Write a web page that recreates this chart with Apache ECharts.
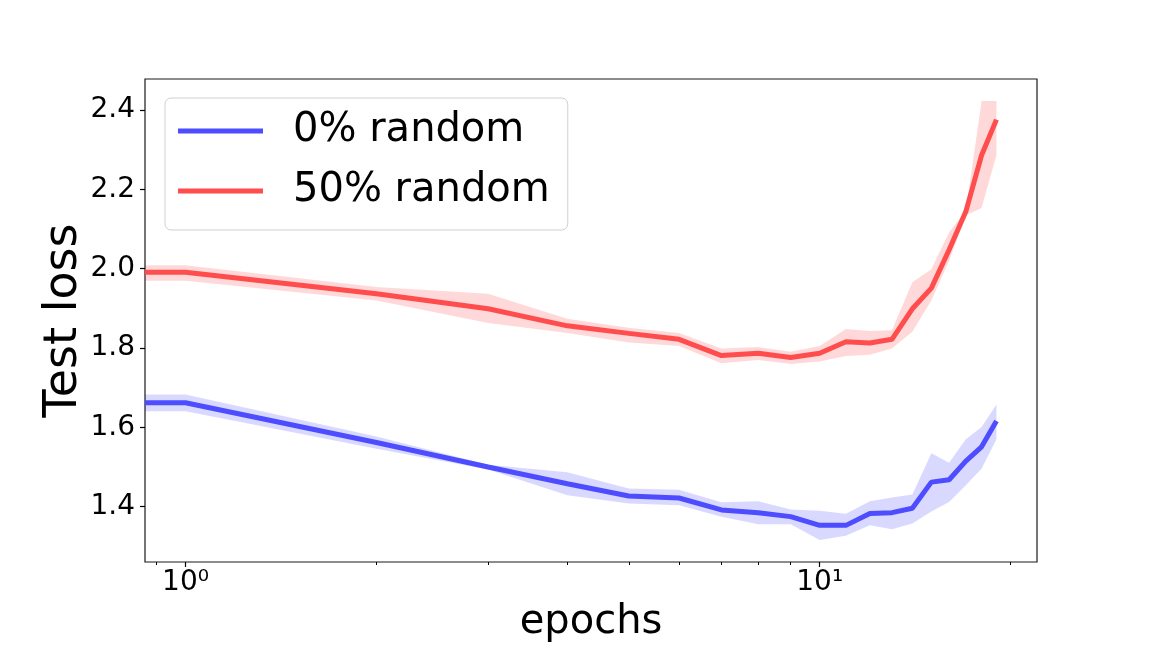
<!DOCTYPE html>
<html>
<head>
<meta charset="utf-8">
<script src="https://cdn.jsdelivr.net/npm/echarts@6/dist/echarts.min.js"></script>
<style>
  html, body { margin: 0; padding: 0; background: #fff; }
  #chart { width: 1152px; height: 648px; }
</style>
</head>
<body>
<div id="chart"></div>
<script>
// epochs (log x axis)
var epochs = [1, 2, 3, 4, 5, 6, 7, 8, 9, 10, 11, 12, 13, 14, 15, 16, 17, 18, 19];

// 0% random
var blueMean = [1.662, 1.562, 1.500, 1.458, 1.427, 1.422, 1.392, 1.385, 1.375, 1.353, 1.353, 1.383, 1.385, 1.396, 1.462, 1.468, 1.515, 1.551, 1.616];
var blueLow  = [1.641, 1.546, 1.494, 1.429, 1.408, 1.404, 1.375, 1.356, 1.356, 1.316, 1.327, 1.353, 1.343, 1.358, 1.388, 1.412, 1.454, 1.496, 1.570];
var blueHigh = [1.683, 1.577, 1.506, 1.487, 1.446, 1.443, 1.411, 1.414, 1.393, 1.390, 1.382, 1.414, 1.423, 1.431, 1.535, 1.511, 1.570, 1.601, 1.658];

// 50% random
var redMean = [1.991, 1.937, 1.899, 1.856, 1.837, 1.822, 1.781, 1.787, 1.776, 1.787, 1.816, 1.813, 1.822, 1.899, 1.951, 2.048, 2.144, 2.286, 2.376];
var redLow  = [1.970, 1.920, 1.863, 1.838, 1.814, 1.805, 1.762, 1.770, 1.760, 1.766, 1.780, 1.783, 1.799, 1.841, 1.920, 2.020, 2.135, 2.153, 2.286];
var redHigh = [2.009, 1.954, 1.937, 1.874, 1.851, 1.838, 1.799, 1.803, 1.791, 1.805, 1.848, 1.843, 1.845, 1.966, 1.999, 2.092, 2.145, 2.423, 2.423];

var seriesNames = ['0% random', '50% random'];
var yTicks = [1.4, 1.6, 1.8, 2.0, 2.2, 2.4];
var xMajorTicks = [1, 10];
var xMajorLabels = ['10\u2070', '10\u00b9'];
var xMinorTicks = [0.9, 2, 3, 4, 5, 6, 7, 8, 9, 20];

var BLUE = '#4d4dff', RED = '#ff4d4d';
var FONT = 'DejaVu Sans';

function lg(v) { return Math.log10(v); }

// axis limits like matplotlib: 5% margin around data
var xLo = lg(epochs[0]), xHi = lg(epochs[epochs.length - 1]);
var xPad = (xHi - xLo) * 0.05;
var xMin = xLo - xPad, xMax = xHi + xPad;

var allY = blueLow.concat(blueHigh, redLow, redHigh);
var yLo = Math.min.apply(null, allY), yHi = Math.max.apply(null, allY);
var yPad = (yHi - yLo) * 0.05;
var yMin = yLo - yPad, yMax = yHi + yPad;

// first point extends flat to the left edge (epoch 0 clipped on log scale)
function lineData(vals) {
    var d = [[xMin, vals[0]]];
    for (var i = 0; i < epochs.length; i++) d.push([lg(epochs[i]), vals[i]]);
    return d;
}
function bandData(lo, hi) {
    var d = [[xMin, lo[0], hi[0]]];
    for (var i = 0; i < epochs.length; i++) d.push([lg(epochs[i]), lo[i], hi[i]]);
    return d;
}

function bandSeries(name, lo, hi, fill) {
    return {
        type: 'custom',
        name: name,
        data: bandData(lo, hi),
        encode: { x: 0, y: [1, 2] },
        silent: true,
        z: 1,
        renderItem: function (params, api) {
            if (params.dataIndexInside !== 0) return null;
            var n = params.dataInsideLength;
            var top = [], bot = [];
            for (var i = 0; i < n; i++) {
                var x = api.value(0, i);
                top.push(api.coord([x, api.value(2, i)]));
                bot.push(api.coord([x, api.value(1, i)]));
            }
            return {
                type: 'polygon',
                shape: { points: top.concat(bot.reverse()) },
                style: { fill: fill }
            };
        }
    };
}

function lineSeries(name, vals, color) {
    return {
        type: 'line',
        name: name,
        data: lineData(vals),
        showSymbol: false,
        color: color,
        z: 3,
        lineStyle: { width: 5, color: color },
        itemStyle: { color: color }
    };
}

var chart = echarts.init(document.getElementById('chart'));
chart.setOption({
    animation: false,
    backgroundColor: '#fff',
    textStyle: { fontFamily: FONT },
    grid: {
        left: 145, right: 115, top: 79, bottom: 81,
        show: true, borderColor: '#1a1a1a', borderWidth: 1.2, backgroundColor: 'transparent'
    },
    legend: {
        data: seriesNames,
        orient: 'vertical',
        left: 165, top: 98,
        icon: 'rect',
        itemWidth: 85, itemHeight: 5, itemGap: 12,
        padding: [9, 18, 15, 13],
        borderColor: '#d0d0d0', borderWidth: 1, borderRadius: 6,
        backgroundColor: 'rgba(255,255,255,0.8)',
        selectedMode: false,
        textStyle: { fontFamily: FONT, fontSize: 40, color: '#000', lineHeight: 48, padding: [0, 0, 0, 25] }
    },
    xAxis: [{
        type: 'value',
        min: xMin, max: xMax,
        name: 'epochs',
        nameLocation: 'middle',
        nameGap: 41,
        nameMoveOverlap: false,
        nameTextStyle: { fontFamily: FONT, fontSize: 40, color: '#000' },
        axisLine: { show: false, onZero: false },
        splitLine: { show: false },
        axisTick: { show: true, length: 5, lineStyle: { color: '#000', width: 1.2 }, customValues: xMajorTicks.map(lg) },
        axisLabel: {
            customValues: xMajorTicks.map(lg),
            margin: 7,
            fontFamily: FONT, fontSize: 28, color: '#000',
            formatter: function (v) { return xMajorLabels[Math.round(v)]; }
        }
    }, {
        type: 'value',
        position: 'bottom',
        min: xMin, max: xMax,
        axisLine: { show: false, onZero: false },
        splitLine: { show: false },
        axisLabel: { show: false },
        axisTick: { show: true, length: 3, lineStyle: { color: '#000', width: 1 }, customValues: xMinorTicks.map(lg) }
    }],
    yAxis: {
        type: 'value',
        min: yMin, max: yMax,
        name: 'Test loss',
        nameLocation: 'middle',
        nameGap: 58,
        nameMoveOverlap: false,
        nameTextStyle: { fontFamily: FONT, fontSize: 46, color: '#000' },
        axisLine: { show: false, onZero: false },
        splitLine: { show: false },
        axisTick: { show: true, length: 5, lineStyle: { color: '#000', width: 1.2 }, customValues: yTicks },
        axisLabel: {
            customValues: yTicks,
            margin: 10,
            fontFamily: FONT, fontSize: 28, color: '#000',
            formatter: function (v) { return v.toFixed(1); }
        }
    },
    series: [
        bandSeries('band0', blueLow, blueHigh, 'rgba(0,0,255,0.15)'),
        bandSeries('band50', redLow, redHigh, 'rgba(255,0,0,0.15)'),
        lineSeries(seriesNames[0], blueMean, BLUE),
        lineSeries(seriesNames[1], redMean, RED)
    ]
});
</script>
</body>
</html>
